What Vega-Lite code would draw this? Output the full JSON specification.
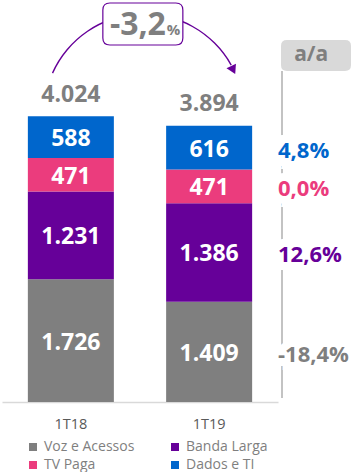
{
  "$schema": "https://vega.github.io/schema/vega-lite/v6.json",
  "padding": {"left": 2, "top": 0, "right": 0, "bottom": 0},
  "spacing": 0,
  "config": {
    "font": "Open Sans",
    "view": {"stroke": null},
    "locale": {"number": {"decimal": ",", "thousands": ".", "grouping": [3], "currency": ["R$", ""], "minus": "-"}}
  },
  "datasets": {
    "seg": [
      {"p": "1T18", "cat": "Voz e Acessos", "v": 1726, "o": 1},
      {"p": "1T18", "cat": "Banda Larga", "v": 1231, "o": 2},
      {"p": "1T18", "cat": "TV Paga", "v": 471, "o": 3},
      {"p": "1T18", "cat": "Dados e TI", "v": 588, "o": 4},
      {"p": "1T19", "cat": "Voz e Acessos", "v": 1409, "o": 1, "yoy": -0.184},
      {"p": "1T19", "cat": "Banda Larga", "v": 1386, "o": 2, "yoy": 0.126},
      {"p": "1T19", "cat": "TV Paga", "v": 471, "o": 3, "yoy": 0.0},
      {"p": "1T19", "cat": "Dados e TI", "v": 616, "o": 4, "yoy": 0.048}
    ],
    "tot": [
      {"p": "1T18", "total": 4024},
      {"p": "1T19", "total": 3894}
    ],
    "chg": [{"chg": -3.2}]
  },
  "hconcat": [
    {
      "width": 276,
      "height": 402,
      "layer": [
        {
          "data": {"name": "seg"},
          "mark": {"type": "bar"},
          "encoding": {
            "x": {"field": "p", "type": "nominal", "scale": {"paddingInner": 0.378, "paddingOuter": 0.187},
                  "axis": {"title": null, "labelAngle": 0, "ticks": false, "domainColor": "#d9d9d9", "domainWidth": 1.5, "labelFontSize": 14.5, "labelColor": "#595959", "labelPadding": 15}},
            "y": {"field": "v", "type": "quantitative", "stack": "zero", "scale": {"domain": [0, 5650], "nice": false}, "axis": null},
            "order": {"field": "o", "type": "quantitative"},
            "color": {"field": "cat", "type": "nominal",
                      "scale": {"domain": ["Voz e Acessos", "Banda Larga", "TV Paga", "Dados e TI"], "range": ["#7f7f7f", "#660099", "#eb3c7d", "#0066cc"]},
                      "legend": {"orient": "none", "direction": "horizontal", "legendX": 24, "legendY": 440, "title": null, "columns": 2, "columnPadding": 33, "rowPadding": 4, "symbolType": "square", "symbolSize": 64, "labelFontSize": 14, "labelColor": "#7f7f7f", "labelOffset": 4, "symbolStrokeWidth": 0}}
          }
        },
        {
          "data": {"name": "seg"},
          "transform": [
            {"stack": "v", "groupby": ["p"], "sort": [{"field": "o", "order": "ascending"}], "as": ["y0", "y1"]},
            {"calculate": "(datum.y0 + datum.y1) / 2", "as": "mid"}
          ],
          "mark": {"type": "text", "fontWeight": "bold", "fontSize": 23, "color": "white", "baseline": "middle", "dy": 2},
          "encoding": {
            "x": {"field": "p", "type": "nominal"},
            "y": {"field": "mid", "type": "quantitative"},
            "text": {"field": "v", "type": "quantitative", "format": ",d"}
          }
        },
        {
          "data": {"name": "tot"},
          "mark": {"type": "text", "fontWeight": "bold", "fontSize": 23, "color": "#7f7f7f", "baseline": "alphabetic", "dy": -14},
          "encoding": {
            "x": {"field": "p", "type": "nominal"},
            "y": {"field": "total", "type": "quantitative"},
            "text": {"field": "total", "type": "quantitative", "format": ",d"}
          }
        },
        {
          "data": {"name": "chg"},
          "mark": {"type": "arc", "theta": -1.15, "theta2": 1.06, "innerRadius": 99.4, "outerRadius": 100.8, "color": "#660099"},
          "encoding": {
            "x": {"datum": "1T18", "type": "nominal", "bandPosition": 1.349},
            "y": {"datum": 4048, "type": "quantitative"}
          }
        },
        {
          "data": {"name": "chg"},
          "mark": {"type": "point", "shape": "triangle-up", "filled": true, "size": 110, "angle": 154, "color": "#660099", "opacity": 1},
          "encoding": {
            "x": {"datum": "1T19", "type": "nominal", "bandPosition": 0.78},
            "y": {"datum": 4666, "type": "quantitative"}
          }
        },
        {
          "data": {"name": "chg"},
          "mark": {"type": "point", "shape": "M-0.825,-0.525L0.825,-0.525Q1,-0.525,1,-0.35L1,0.35Q1,0.525,0.825,0.525L-0.825,0.525Q-1,0.525,-1,0.35L-1,-0.35Q-1,-0.525,-0.825,-0.525Z", "size": 6400, "filled": true, "fill": "white", "stroke": "#660099", "strokeWidth": 1.2, "opacity": 1},
          "encoding": {
            "x": {"datum": "1T18", "type": "nominal", "bandPosition": 1.337},
            "y": {"datum": 5313, "type": "quantitative"}
          }
        },
        {
          "data": {"name": "chg"},
          "mark": {"type": "text", "fontWeight": "bold", "fontSize": 32, "color": "#7f7f7f", "align": "right", "baseline": "alphabetic"},
          "encoding": {
            "x": {"datum": "1T18", "type": "nominal", "bandPosition": 1.605},
            "y": {"datum": 5158, "type": "quantitative"},
            "text": {"field": "chg", "type": "quantitative", "format": ".1f"}
          }
        },
        {
          "data": {"name": "chg"},
          "mark": {"type": "text", "fontWeight": "bold", "fontSize": 15, "color": "#7f7f7f", "align": "left", "baseline": "alphabetic", "text": "%"},
          "encoding": {
            "x": {"datum": "1T18", "type": "nominal", "bandPosition": 1.616},
            "y": {"datum": 5158, "type": "quantitative"}
          }
        }
      ]
    },
    {
      "width": 80,
      "height": 402,
      "data": {"name": "seg"},
      "transform": [
        {"filter": "datum.p == '1T19'"},
        {"stack": "v", "groupby": ["p"], "sort": [{"field": "o", "order": "ascending"}], "as": ["y0", "y1"]},
        {"calculate": "(datum.y0 + datum.y1) / 2", "as": "mid"}
      ],
      "layer": [
        {
          "mark": {"type": "rule", "color": "#bfbfbf", "strokeWidth": 1},
          "encoding": {
            "x": {"datum": "a/a", "type": "nominal", "bandPosition": 0.025, "scale": {"paddingInner": 0, "paddingOuter": 0}, "axis": null},
            "y": {"datum": 4652, "type": "quantitative", "scale": {"domain": [0, 5650], "nice": false}, "axis": null},
            "y2": {"datum": 56}
          }
        },
        {
          "mark": {"type": "text", "fontWeight": "bold", "fontSize": 22, "align": "left", "baseline": "middle", "dy": 3, "dx": -2, "fill": "white", "stroke": "white", "strokeWidth": 16, "strokeJoin": "miter"},
          "encoding": {
            "x": {"datum": "a/a", "type": "nominal", "bandPosition": 0},
            "y": {"field": "mid", "type": "quantitative"},
            "text": {"field": "yoy", "type": "quantitative", "format": ".1%"}
          }
        },
        {
          "mark": {"type": "text", "fontWeight": "bold", "fontSize": 22, "align": "left", "baseline": "middle", "dy": 3, "dx": -2},
          "encoding": {
            "x": {"datum": "a/a", "type": "nominal", "bandPosition": 0},
            "y": {"field": "mid", "type": "quantitative"},
            "text": {"field": "yoy", "type": "quantitative", "format": ".1%"},
            "color": {"field": "cat", "type": "nominal", "legend": null}
          }
        },
        {
          "transform": [{"filter": "datum.o == 1"}],
          "mark": {"type": "point", "shape": "M-0.829,-0.443L0.829,-0.443Q1,-0.443,1,-0.272L1,0.272Q1,0.443,0.829,0.443L-0.829,0.443Q-1,0.443,-1,0.272L-1,-0.272Q-1,-0.443,-0.829,-0.443Z", "size": 4900, "filled": true, "fill": "#d9d9d9", "strokeWidth": 0, "opacity": 1},
          "encoding": {
            "x": {"datum": "a/a", "type": "nominal", "bandPosition": 0.45},
            "y": {"datum": 4870, "type": "quantitative"}
          }
        },
        {
          "transform": [{"filter": "datum.o == 1"}],
          "mark": {"type": "text", "fontWeight": "bold", "fontSize": 21, "color": "#7f7f7f", "align": "center", "baseline": "middle", "text": "a/a"},
          "encoding": {
            "x": {"datum": "a/a", "type": "nominal", "bandPosition": 0.39},
            "y": {"datum": 4870, "type": "quantitative"}
          }
        }
      ]
    }
  ]
}
